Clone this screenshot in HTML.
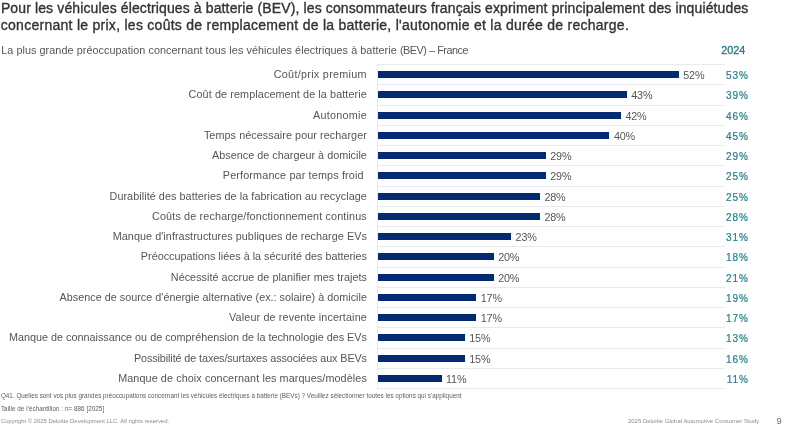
<!DOCTYPE html>
<html lang="fr"><head><meta charset="utf-8"><title>BEV</title>
<style>
html,body{margin:0;padding:0;background:#fff;}
body{width:785px;height:427px;position:relative;overflow:hidden;font-family:"Liberation Sans",sans-serif;color:#555;}
.abs{position:absolute;white-space:nowrap;}
.title{left:0.9px;top:0px;font-size:14px;line-height:16px;color:#333;-webkit-text-stroke:0.35px #333;}
.sub{left:1.2px;top:43.4px;font-size:10.8px;line-height:14px;color:#555;}
.yr{left:721.2px;top:43.4px;font-size:10.8px;line-height:14px;color:#1f7a86;-webkit-text-stroke:0.3px #1f7a86;}
.lab{font-size:10.8px;line-height:14px;color:#555;text-align:right;}
.val{font-size:10.8px;line-height:14px;color:#555;letter-spacing:-0.2px;}
.pv{right:36.3px;font-size:10px;line-height:14px;color:#24808b;text-align:right;-webkit-text-stroke:0.2px #24808b;letter-spacing:0.9px;}
.bar{position:absolute;background:#032a73;}
.grid{position:absolute;background:#e8eaee;height:1px;}
.foot{left:0.9px;font-size:6.3px;line-height:9px;color:#5c5c5c;}
.cp{font-size:5.9px;color:#8a8a8a;}
</style></head><body>

<div class="abs title" id="t1" style="letter-spacing:0.125px;">Pour les véhicules électriques à batterie (BEV), les consommateurs français expriment principalement des inquiétudes</div>
<div class="abs title" id="t2" style="top:17px;left:0.8px;letter-spacing:0.269px;">concernant le prix, les coûts de remplacement de la batterie, l'autonomie et la durée de recharge.</div>
<div class="abs sub" id="sub"><span id="subA" style="letter-spacing:0.068px;">La plus grande préoccupation concernant tous les véhicules électriques à batterie </span><span id="subB" style="letter-spacing:-0.443px;">(BEV) – France</span></div>
<div class="abs yr" id="yr">2024</div>
<div class="grid" style="left:376.9px;top:64.0px;width:347.9px"></div>
<div class="grid" style="left:376.9px;top:84.2px;width:347.9px"></div>
<div class="grid" style="left:376.9px;top:104.5px;width:347.9px"></div>
<div class="grid" style="left:376.9px;top:124.8px;width:347.9px"></div>
<div class="grid" style="left:376.9px;top:145.0px;width:347.9px"></div>
<div class="grid" style="left:376.9px;top:165.2px;width:347.9px"></div>
<div class="grid" style="left:376.9px;top:185.5px;width:347.9px"></div>
<div class="grid" style="left:376.9px;top:205.8px;width:347.9px"></div>
<div class="grid" style="left:376.9px;top:226.0px;width:347.9px"></div>
<div class="grid" style="left:376.9px;top:246.2px;width:347.9px"></div>
<div class="grid" style="left:376.9px;top:266.5px;width:347.9px"></div>
<div class="grid" style="left:376.9px;top:286.8px;width:347.9px"></div>
<div class="grid" style="left:376.9px;top:307.0px;width:347.9px"></div>
<div class="grid" style="left:376.9px;top:327.2px;width:347.9px"></div>
<div class="grid" style="left:376.9px;top:347.5px;width:347.9px"></div>
<div class="grid" style="left:376.9px;top:367.8px;width:347.9px"></div>
<div class="grid" style="left:376.9px;top:388.0px;width:347.9px"></div>
<div class="grid" style="left:376.8px;top:64.5px;width:1px;height:324.0px"></div>
<div class="abs lab" id="l0" style="right:418.1px;top:67px;letter-spacing:0.294px;">Coût/prix premium</div>
<div class="bar" style="left:377.7px;top:71.1px;width:301.1px;height:7.0px"></div>
<div class="abs val" id="v0" style="left:683.3px;top:68px">52%</div>
<div class="abs pv" id="p0" style="top:69px">53%</div>
<div class="abs lab" id="l1" style="right:418.1px;top:87px;letter-spacing:0.104px;">Coût de remplacement de la batterie</div>
<div class="bar" style="left:377.7px;top:91.4px;width:249.1px;height:7.0px"></div>
<div class="abs val" id="v1" style="left:631.3px;top:88px">43%</div>
<div class="abs pv" id="p1" style="top:89px">39%</div>
<div class="abs lab" id="l2" style="right:418.1px;top:108px;letter-spacing:0.253px;">Autonomie</div>
<div class="bar" style="left:377.7px;top:111.6px;width:243.3px;height:7.0px"></div>
<div class="abs val" id="v2" style="left:625.5px;top:109px">42%</div>
<div class="abs pv" id="p2" style="top:110px">46%</div>
<div class="abs lab" id="l3" style="right:418.1px;top:128px;letter-spacing:0.070px;">Temps nécessaire pour recharger</div>
<div class="bar" style="left:377.7px;top:131.9px;width:231.7px;height:7.0px"></div>
<div class="abs val" id="v3" style="left:613.9px;top:129px">40%</div>
<div class="abs pv" id="p3" style="top:130px">45%</div>
<div class="abs lab" id="l4" style="right:418.1px;top:148px;letter-spacing:0.018px;">Absence de chargeur à domicile</div>
<div class="bar" style="left:377.7px;top:152.1px;width:168.1px;height:7.0px"></div>
<div class="abs val" id="v4" style="left:550.3px;top:149px">29%</div>
<div class="abs pv" id="p4" style="top:150px">29%</div>
<div class="abs lab" id="l5" style="right:421.3px;top:168px;letter-spacing:0.151px;">Performance par temps froid</div>
<div class="bar" style="left:377.7px;top:172.4px;width:168.1px;height:7.0px"></div>
<div class="abs val" id="v5" style="left:550.3px;top:169px">29%</div>
<div class="abs pv" id="p5" style="top:170px">25%</div>
<div class="abs lab" id="l6" style="right:418.1px;top:189px;letter-spacing:0.064px;">Durabilité des batteries de la fabrication au recyclage</div>
<div class="bar" style="left:377.7px;top:192.6px;width:162.3px;height:7.0px"></div>
<div class="abs val" id="v6" style="left:544.5px;top:190px">28%</div>
<div class="abs pv" id="p6" style="top:191px">25%</div>
<div class="abs lab" id="l7" style="right:418.1px;top:209px;letter-spacing:0.147px;">Coûts de recharge/fonctionnement continus</div>
<div class="bar" style="left:377.7px;top:212.9px;width:162.3px;height:7.0px"></div>
<div class="abs val" id="v7" style="left:544.5px;top:210px">28%</div>
<div class="abs pv" id="p7" style="top:211px">28%</div>
<div class="abs lab" id="l8" style="right:418.1px;top:229px;letter-spacing:0.061px;">Manque d'infrastructures publiques de recharge EVs</div>
<div class="bar" style="left:377.7px;top:233.1px;width:133.4px;height:7.0px"></div>
<div class="abs val" id="v8" style="left:515.6px;top:230px">23%</div>
<div class="abs pv" id="p8" style="top:231px">31%</div>
<div class="abs lab" id="l9" style="right:418.1px;top:249px;letter-spacing:0.009px;">Préoccupations liées à la sécurité des batteries</div>
<div class="bar" style="left:377.7px;top:253.4px;width:116.0px;height:7.0px"></div>
<div class="abs val" id="v9" style="left:498.2px;top:250px">20%</div>
<div class="abs pv" id="p9" style="top:251px">18%</div>
<div class="abs lab" id="l10" style="right:418.1px;top:270px;letter-spacing:0.041px;">Nécessité accrue de planifier mes trajets</div>
<div class="bar" style="left:377.7px;top:273.6px;width:116.0px;height:7.0px"></div>
<div class="abs val" id="v10" style="left:498.2px;top:271px">20%</div>
<div class="abs pv" id="p10" style="top:272px">21%</div>
<div class="abs lab" id="l11" style="right:418.1px;top:290px;letter-spacing:0.015px;">Absence de source d'énergie alternative (ex.: solaire) à domicile</div>
<div class="bar" style="left:377.7px;top:293.9px;width:98.6px;height:7.0px"></div>
<div class="abs val" id="v11" style="left:480.8px;top:291px">17%</div>
<div class="abs pv" id="p11" style="top:292px">19%</div>
<div class="abs lab" id="l12" style="right:418.1px;top:310px;letter-spacing:0.127px;">Valeur de revente incertaine</div>
<div class="bar" style="left:377.7px;top:314.1px;width:98.6px;height:7.0px"></div>
<div class="abs val" id="v12" style="left:480.8px;top:311px">17%</div>
<div class="abs pv" id="p12" style="top:312px">17%</div>
<div class="abs lab" id="l13" style="right:418.1px;top:330px;letter-spacing:0.002px;">Manque de connaissance ou de compréhension de la technologie des EVs</div>
<div class="bar" style="left:377.7px;top:334.4px;width:87.1px;height:7.0px"></div>
<div class="abs val" id="v13" style="left:469.3px;top:331px">15%</div>
<div class="abs pv" id="p13" style="top:332px">13%</div>
<div class="abs lab" id="l14" style="right:418.1px;top:351px;letter-spacing:-0.097px;">Possibilité de taxes/surtaxes associées aux BEVs</div>
<div class="bar" style="left:377.7px;top:354.6px;width:87.1px;height:7.0px"></div>
<div class="abs val" id="v14" style="left:469.3px;top:352px">15%</div>
<div class="abs pv" id="p14" style="top:353px">16%</div>
<div class="abs lab" id="l15" style="right:418.1px;top:371px;letter-spacing:0.098px;">Manque de choix concernant les marques/modèles</div>
<div class="bar" style="left:377.7px;top:374.9px;width:63.9px;height:7.0px"></div>
<div class="abs val" id="v15" style="left:446.1px;top:372px">11%</div>
<div class="abs pv" id="p15" style="top:373px">11%</div>
<div class="abs foot" id="f1" style="top:391px;letter-spacing:0.020px;">Q41. Quelles sont vos plus grandes préoccupations concernant les véhicules électriques à batterie (BEVs) ? Veuillez sélectionner toutes les options qui s'appliquent</div>
<div class="abs foot" id="f2" style="top:404px;letter-spacing:0.046px;">Taille de l'échantillon : n= 886 [2025]</div>
<div class="abs foot cp" id="f3" style="top:416.5px;letter-spacing:0.002px;">Copyright © 2025 Deloitte Development LLC. All rights reserved.</div>
<div class="abs foot cp" id="f4" style="left:628px;top:416.5px;letter-spacing:0.033px;">2025 Deloitte Global Automotive Consumer Study</div>
<div class="abs" id="pg" style="left:776.4px;top:414.5px;font-size:9.3px;line-height:12px;color:#6a6a6a">9</div>
</body></html>
